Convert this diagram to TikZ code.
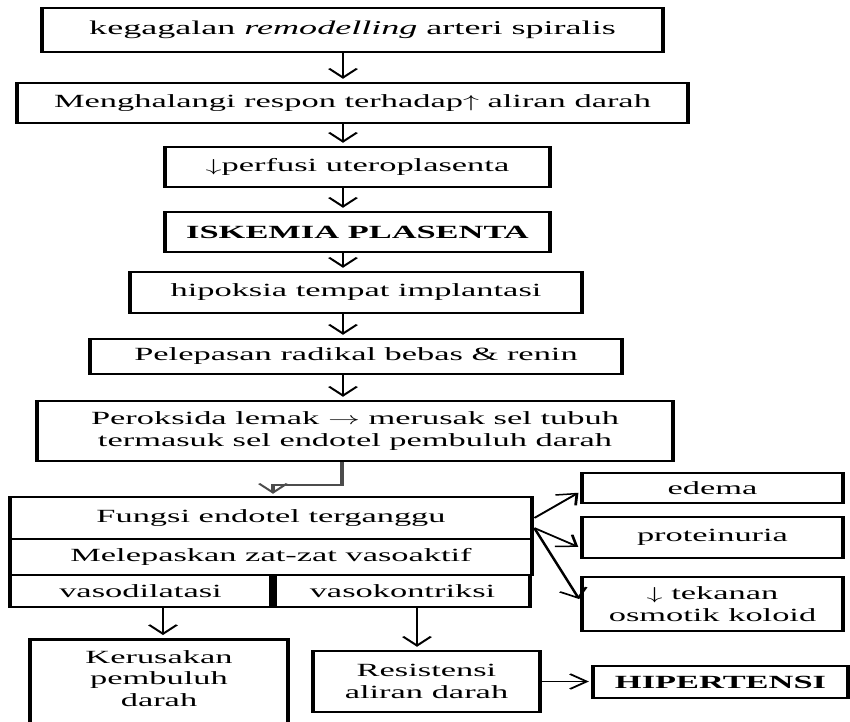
\documentclass[tikz,border=0pt]{standalone}
\usepackage{fontspec}
\setmainfont{Liberation Serif}
\usetikzlibrary{arrows.meta,calc}
\begin{document}
\begin{tikzpicture}[x=1pt,y=-1pt]
\useasboundingbox[fill=white] (0,0) rectangle (850,721);
\clip (0,0) rectangle (850,721);
\begin{scope}[transform canvas={xscale=1.85}, x=0.540541pt, y=-1pt,
  box/.style 2 args={draw, line width=2.5pt, inner sep=0pt, align=center,
    font=\fontsize{18.6}{22}\selectfont,
    minimum width={#1pt/1.85}, minimum height=#2pt},
  txt/.style={inner sep=0pt, align=center, font=\fontsize{18.6}{21.5}\selectfont},
  arr/.style={line width=1.5pt, -{Straight Barb[length=9pt,width=15pt,line width=1.5pt]}},
  conn/.style={line width=1.8pt, draw=black!70, -{Straight Barb[length=9pt,width=15pt,line width=1.5pt]}}]

% main chain
\node[box={621}{44}, font=\fontsize{19.5}{22}\selectfont] (b1) at (352.5,30) {kegagalan \textit{remodelling} arteri spiralis};
\node[box={671}{40}] (b2) at (352.5,103) {Menghalangi respon terhadap$\uparrow$ aliran darah};
\node[box={385}{40}] (b3) at (357.5,167) {$\downarrow$perfusi uteroplasenta};
\node[box={385}{40}] (b4) at (357.5,232) {\textbf{ISKEMIA PLASENTA}};
\node[box={452}{41}] (b5) at (356,292.5) {hipoksia tempat implantasi};
\node[box={532}{35}] (b6) at (356,356.5) {Pelepasan radikal bebas \& renin};
\node[box={636}{60}] (b7) at (355,431) {Peroksida lemak $\rightarrow$ merusak sel tubuh\\termasuk sel endotel pembuluh darah};

% lower block
\node[box={522}{42}] (f1) at (271,518) {Fungsi endotel terganggu};
\node[box={522}{36}] (f2) at (271,557) {Melepaskan zat-zat vasoaktif};
\node[box={261}{32}] (vd) at (140.5,591) {vasodilatasi};
\node[box={255}{32}] (vk) at (402.5,591) {vasokontriksi};

% right column
\node[box={261}{30}] (ed) at (712.5,488) {edema};
\node[box={261}{41}] (pr) at (712.5,537.5) {proteinuria};
\node[box={261}{54}] (tk) at (712.5,604) {$\downarrow$ tekanan\\osmotik koloid};

% bottom
\node[box={258}{102}, anchor=north] (kr) at (159,638) {};
\node[txt, anchor=north] (krt) at (159,650) {Kerusakan\\pembuluh\\darah};
\node[box={227}{61}] (rs) at (426.5,681.5) {Resistensi\\aliran darah};
\node[box={255}{32}] (hp) at (720.5,682) {\textbf{HIPERTENSI}};

% helper coordinates
\coordinate (ax) at (343,0);
\coordinate (c1) at (342,485);
\coordinate (c2) at (273,485);
\coordinate (ad) at (163,0);
\coordinate (ak) at (417,0);

% vertical arrows of the chain
\foreach \a/\b in {b1/b2,b2/b3,b3/b4,b4/b5,b5/b6,b6/b7}
  \draw[arr, shorten >=3pt] (\a.south -| ax) -- (\b.north -| ax);

% elbow connector
\draw[conn, shorten >=2pt] (b7.south -| c1) |- (c2) -- (f1.north -| c2);

% fan-out arrows
\draw[arr, shorten >=1pt] (f1.east) -- ($(ed.west)+(0,4)$);
\draw[arr, shorten >=1pt] ($(f1.east)+(0,10)$) -- ($(pr.west)+(0,10)$);
\draw[arr, shorten >=1pt] ($(f1.east)+(0,10)$) -- ($(tk.west)+(0,-4)$);

% lower arrows
\draw[arr, shorten >=3pt] (vd.south -| ad) -- (kr.north -| ad);
\draw[arr, shorten >=3pt] (vk.south -| ak) -- (rs.north -| ak);
\draw[arr, shorten >=1pt] (rs.east) -- (rs.east -| hp.west);
\end{scope}
\end{tikzpicture}
\end{document}
